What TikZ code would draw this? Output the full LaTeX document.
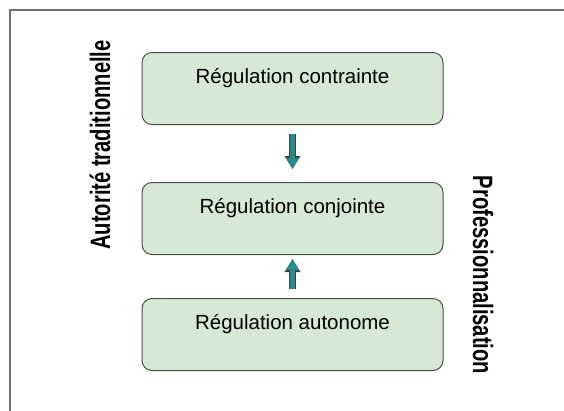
\documentclass[tikz,border=0pt]{standalone}
\usepackage{fontspec}
\setmainfont{Liberation Sans}
\usetikzlibrary{positioning,arrows.meta}
\definecolor{boxgreen}{RGB}{214,233,213}
\definecolor{arrowteal}{RGB}{38,140,140}
\definecolor{framegray}{RGB}{112,112,112}

\begin{document}
\begin{tikzpicture}[x=1pt,y=-1pt,
box/.style={draw=black!70,fill=boxgreen,rounded corners=10pt,line width=1pt,
  minimum width=301pt,minimum height=72pt,
  font=\fontsize{20.5}{24}\selectfont,text height=15pt,text depth=26pt},
side/.style={font=\fontsize{28}{32}\selectfont\bfseries,anchor=base,inner sep=0pt},
fat/.style={arrowteal,line width=5pt,-{Triangle[width=12pt,length=11pt]},
  preaction={draw=black!75,line width=7pt,-{Triangle[width=15pt,length=13pt]}}}]
\useasboundingbox (0,0) rectangle (564,410);
\draw[framegray,line width=2pt] (10,10) rectangle (600,450);
\node (contr) [box] at (292.5,88.5) {Régulation contrainte};
\node (conj) [box,below=57pt of contr] {Régulation conjointe};
\node (auto) [box,below=43pt of conj] {Régulation autonome};
\draw[fat,shorten <=9pt,shorten >=13pt] (contr) -- (conj);
\draw[fat,shorten <=9pt,shorten >=4pt] (auto) -- (conj);
\node (trad) [side,rotate=90] at (110,145) {\scalebox{0.72}[1]{Autorité traditionnelle}};
\node (prof) [side,rotate=-90] at (473,275) {\scalebox{0.72}[1]{Professionnalisation}};
\end{tikzpicture}
\end{document}
